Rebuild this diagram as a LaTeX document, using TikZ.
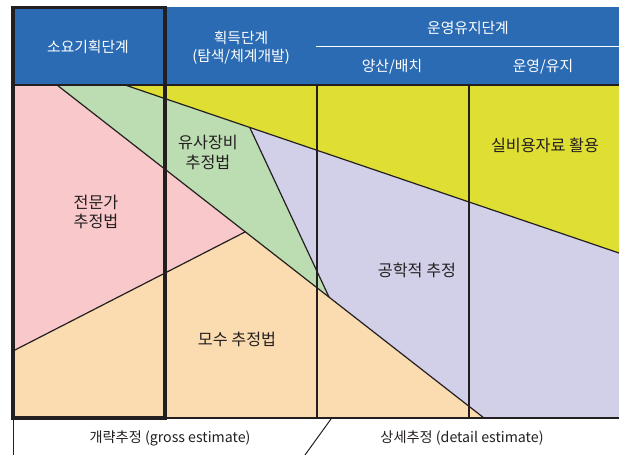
\documentclass[tikz,border=0pt]{standalone}
\usepackage{fontspec}
\setmainfont{Noto Sans CJK KR}
\definecolor{hblue}{HTML}{2B6BB3}
\definecolor{cpink}{HTML}{F9C8CA}
\definecolor{cgreen}{HTML}{BCDDB1}
\definecolor{cyellow}{HTML}{DEDE33}
\definecolor{clav}{HTML}{D2D0E8}
\definecolor{cpeach}{HTML}{FBDBB0}
\definecolor{cline}{HTML}{231F20}
\begin{document}
\begin{tikzpicture}[x=1pt,y=-1pt,
  bnd/.style={draw=cline,line width=1.2pt},
  htext/.style={text=white,font=\fontsize{14.8}{18}\selectfont,align=center,inner sep=0pt},
  ptext/.style={text=cline,font=\fontsize{16.2}{19.5}\selectfont,align=center,inner sep=0pt},
  btext/.style={text=cline,font=\fontsize{14.2}{16}\selectfont,inner sep=0pt}]
\useasboundingbox (0,0) rectangle (619,455);
% coordinates
\coordinate (TL) at (13,85);
\coordinate (TR) at (619,85);
\coordinate (BL) at (13,418);
\coordinate (BR) at (619,418);
\coordinate (p1) at (57,85);
\coordinate (p2) at (125,85);
\coordinate (g1) at (250,128);
\coordinate (g2) at (329,297);
\coordinate (m1) at (245,232);
\coordinate (l1) at (13,351);
\coordinate (y1) at (619,253);
\coordinate (b1) at (484,418);
% header
\fill[hblue] (13,7) rectangle (619,85);
\draw[white,line width=0.9pt] (316,46) -- (619,46);
% regions
\fill[cpink] (TL) -- (p1) -- (m1) -- (l1) -- cycle;
\fill[cgreen] (p1) -- (p2) -- (g1) -- (g2) -- cycle;
\fill[cyellow] (p2) -- (TR) -- (y1) -- cycle;
\fill[clav] (g1) -- (y1) -- (BR) -- (b1) -- (g2) -- cycle;
\fill[cpeach] (l1) -- (m1) -- (b1) -- (BL) -- cycle;
% boundaries
\draw[bnd] (p1) -- (b1);
\draw[bnd] (p2) -- (y1);
\draw[bnd] (l1) -- (m1);
\draw[bnd] (g1) -- (g2);
\coordinate (v1t) at (317,85);
\coordinate (v1b) at (317,418);
\coordinate (v2t) at (469,85);
\coordinate (v2b) at (469,418);
\draw[bnd] (v1t) -- (v1b);
\draw[bnd] (v2t) -- (v2b);
\draw[bnd] (TL) -- (TR);
\draw[bnd] (BL) -- (BR);
% bottom row
\coordinate (bl2) at (13,455);
\draw[draw=cline,line width=0.8pt] (BL) -- (bl2);
\coordinate (s1) at (331,419);
\coordinate (s2) at (305,455);
\draw[draw=cline,line width=1pt] (s1) -- (s2);
% thick box
\draw[draw=cline,line width=3.6pt] (13,7.5) rectangle (165,418);
% header texts
\node[htext] (h1) at (88,47) {소요기획단계};
\node[htext] (h2) at (241,38) {획득단계};
\node[htext] (h3) at (241,57) {(탐색/체계개발)};
\node[htext] (h4) at (468,28) {운영유지단계};
\node[htext] (h5) at (392,67) {양산/배치};
\node[htext] (h6) at (543,67) {운영/유지};
% plot texts
\node[ptext] (t1) at (96,212) {전문가\\추정법};
\node[ptext] (t2) at (208,152.5) {유사장비\\추정법};
\node[ptext] (t3) at (545,145) {실비용자료 활용};
\node[ptext] (t4) at (417,270) {공학적 추정};
\node[ptext] (t5) at (237,339) {모수 추정법};
% bottom texts
\node[btext] (b1t) at (170,438) {개략추정 (gross estimate)};
\node[btext] (b2t) at (462,438) {상세추정 (detail estimate)};
\end{tikzpicture}
\end{document}
